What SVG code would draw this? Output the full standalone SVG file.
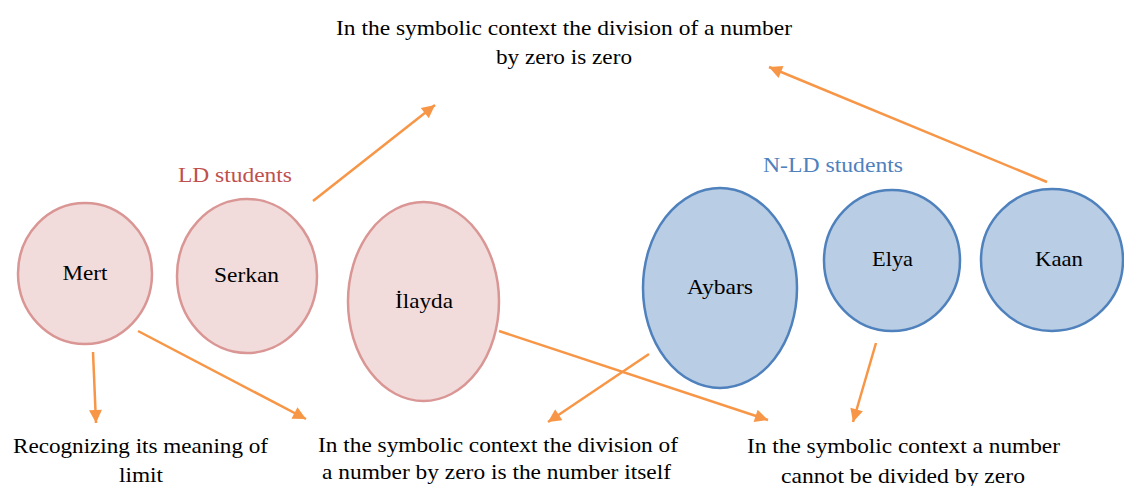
<svg xmlns="http://www.w3.org/2000/svg" width="1124" height="486" viewBox="0 0 1124 486" font-family="'Liberation Serif', 'DejaVu Serif', 'Times New Roman', serif">
<style>
text{font-family:'Liberation Serif','DejaVu Serif','Times New Roman',serif;fill:#000;}
.t{font-size:22px;text-anchor:middle;}
.n{font-size:22px;text-anchor:middle;}
.ld{fill:#F2DCDB;stroke:#D99694;stroke-width:2.5;}
.nld{fill:#B9CDE5;stroke:#4F81BD;stroke-width:2.5;}
.c line{stroke:#F79646;stroke-width:2.5;fill:none;marker-end:url(#ah);}
</style>
<defs>
<marker id="ah" viewBox="0 0 10 10" refX="10" refY="5" markerWidth="15" markerHeight="13" markerUnits="userSpaceOnUse" orient="auto">
<path d="M0,0 L10,5 L0,10 z" fill="#F79646"/>
</marker>
</defs>
<rect width="1124" height="486" fill="#fff"/>

<g id="label-top">
<text class="t" x="564" y="35" textLength="456" lengthAdjust="spacingAndGlyphs">In the symbolic context the division of a number</text>
<text class="t" x="564" y="64" textLength="136" lengthAdjust="spacingAndGlyphs">by zero is zero</text>
</g>
<g id="label-ld"><text class="t" x="235" y="182" style="fill:#C0504D" textLength="114" lengthAdjust="spacingAndGlyphs">LD students</text></g>
<g id="label-nld"><text class="t" x="833" y="172" style="fill:#4F81BD" textLength="140" lengthAdjust="spacingAndGlyphs">N-LD students</text></g>

<g id="mert"><ellipse class="ld" cx="85" cy="273.5" rx="67" ry="70.5"/><text class="n" x="85" y="280" textLength="45" lengthAdjust="spacingAndGlyphs">Mert</text></g>
<g id="serkan"><ellipse class="ld" cx="247" cy="276" rx="70" ry="77"/><text class="n" x="246.5" y="282" textLength="65" lengthAdjust="spacingAndGlyphs">Serkan</text></g>
<g id="ilayda"><ellipse class="ld" cx="423.5" cy="301.5" rx="75.5" ry="99.5"/><text class="n" x="424" y="308" textLength="58" lengthAdjust="spacingAndGlyphs">İlayda</text></g>
<g id="aybars"><ellipse class="nld" cx="720" cy="288" rx="77" ry="100"/><text class="n" x="720" y="294" textLength="66" lengthAdjust="spacingAndGlyphs">Aybars</text></g>
<g id="elya"><ellipse class="nld" cx="892" cy="260.5" rx="68" ry="70.5"/><text class="n" x="892.5" y="266" textLength="41" lengthAdjust="spacingAndGlyphs">Elya</text></g>
<g id="kaan"><ellipse class="nld" cx="1052" cy="260" rx="71" ry="71"/><text class="n" x="1059" y="266" textLength="48" lengthAdjust="spacingAndGlyphs">Kaan</text></g>

<g id="out-limit">
<text class="t" x="140.5" y="453" textLength="255" lengthAdjust="spacingAndGlyphs">Recognizing its meaning of</text>
<text class="t" x="141" y="482" textLength="44" lengthAdjust="spacingAndGlyphs">limit</text>
</g>
<g id="out-itself">
<text class="t" x="498" y="452" textLength="360" lengthAdjust="spacingAndGlyphs">In the symbolic context the division of</text>
<text class="t" x="496.5" y="479" textLength="349" lengthAdjust="spacingAndGlyphs">a number by zero is the number itself</text>
</g>
<g id="out-cannot">
<text class="t" x="903.5" y="453" textLength="313" lengthAdjust="spacingAndGlyphs">In the symbolic context a number</text>
<text class="t" x="903" y="483" textLength="244" lengthAdjust="spacingAndGlyphs">cannot be divided by zero</text>
</g>

<g id="connectors" class="c">
<line x1="313" y1="201" x2="435" y2="105"/>
<line x1="1047" y1="182" x2="769" y2="67"/>
<line x1="93" y1="352" x2="96" y2="423"/>
<line x1="138" y1="331" x2="306" y2="419"/>
<line x1="649" y1="354" x2="548" y2="422"/>
<line x1="499" y1="331" x2="768" y2="420"/>
<line x1="876" y1="343" x2="853" y2="422"/>
</g>
</svg>
